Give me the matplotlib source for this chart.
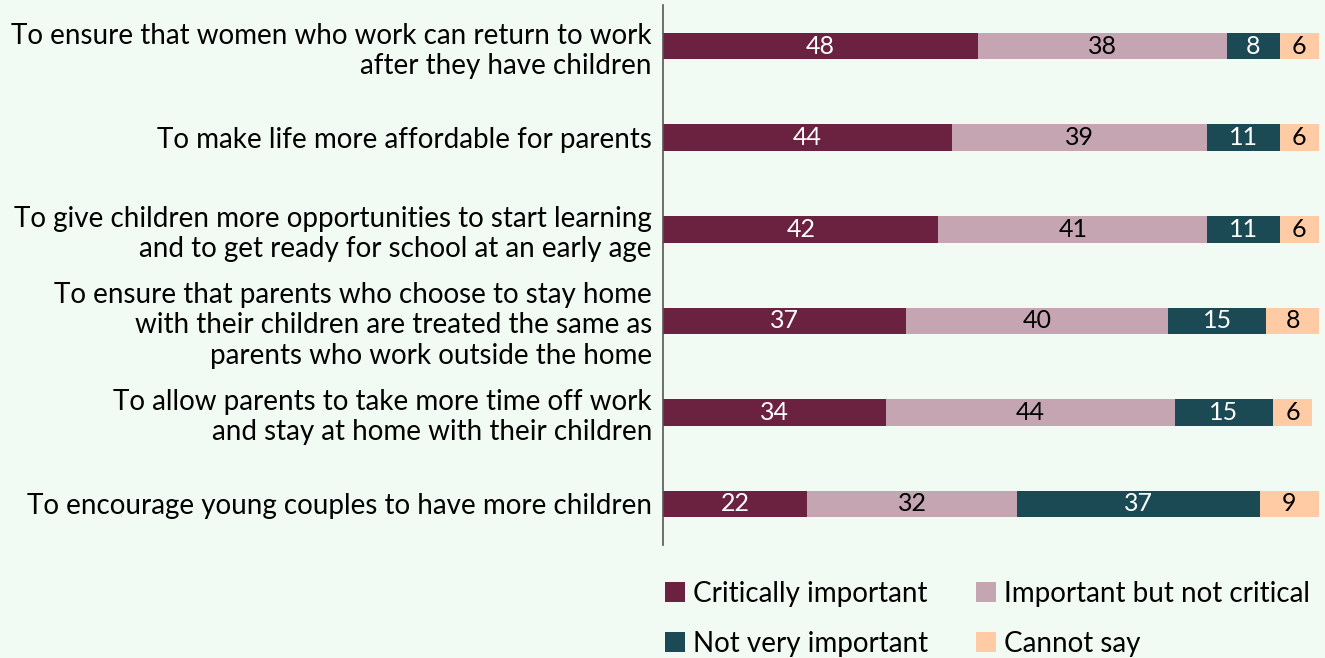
import matplotlib
matplotlib.use("Agg")
import matplotlib.pyplot as plt
from matplotlib.patches import Patch

plt.rcParams['font.family'] = ['Lato', 'DejaVu Sans']

categories = [
    "To ensure that women who work can return to work\nafter they have children",
    "To make life more affordable for parents",
    "To give children more opportunities to start learning\nand to get ready for school at an early age",
    "To ensure that parents who choose to stay home\nwith their children are treated the same as\nparents who work outside the home",
    "To allow parents to take more time off work\nand stay at home with their children",
    "To encourage young couples to have more children",
]
series_names = ["Critically important", "Important but not critical",
                "Not very important", "Cannot say"]
critical = [48, 44, 42, 37, 34, 22]
important = [38, 39, 41, 40, 44, 32]
not_very = [8, 11, 11, 15, 15, 37]
cannot_say = [6, 6, 6, 8, 6, 9]

colors = ["#6B2241", "#C4A5B1", "#1B4A55", "#FFCBA4"]
text_colors = ["white", "black", "white", "black"]
bg = "#F1FBF4"

fig = plt.figure(figsize=(13.25, 6.58), dpi=100, facecolor=bg)
ax = fig.add_axes([0.5004, 0.1717, 0.495, 0.8207], facecolor=bg)

ypos = list(range(len(categories)))
left = [0] * len(categories)
for vals, col, tc in zip([critical, important, not_very, cannot_say], colors, text_colors):
    bars = ax.barh(ypos, vals, left=left, color=col, height=0.29)
    for b, v in zip(bars, vals):
        ax.text(b.get_x() + b.get_width() / 2, b.get_y() + b.get_height() / 2, str(v),
                ha='center', va='center', color=tc, fontsize=18)
    left = [l + v for l, v in zip(left, vals)]

ax.set_xlim(0, 100)
ax.set_ylim(5.45, -0.45)
ax.set_yticks(ypos)
ax.set_yticklabels(categories, fontsize=20, ha='right', linespacing=1.2)
ax.tick_params(axis='y', length=0, pad=8)
ax.set_xticks([])
for s in ['top', 'right', 'bottom']:
    ax.spines[s].set_visible(False)
ax.spines['left'].set_color('#555555')
ax.spines['left'].set_linewidth(1.2)

handles = [Patch(facecolor=c, edgecolor='none') for c in colors]
order = [0, 2, 1, 3]
fig.legend([handles[i] for i in order], [series_names[i] for i in order],
           loc='lower left', bbox_to_anchor=(0.502, 0.002),
           ncol=2, frameon=False, fontsize=20, handlelength=0.72, handleheight=0.72,
           handletextpad=0.3, columnspacing=1.7, labelspacing=0.85,
           borderpad=0, borderaxespad=0)

fig.savefig("out.png", dpi=100, facecolor=bg)
